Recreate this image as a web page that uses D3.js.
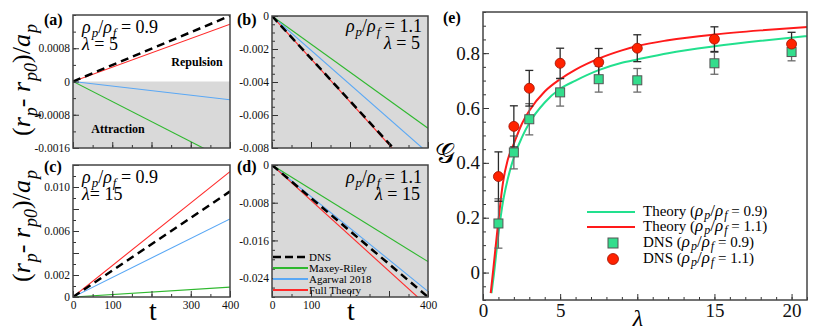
<!DOCTYPE html>
<html>
<head>
<meta charset="utf-8">
<script src="https://cdn.jsdelivr.net/npm/d3@7"></script>
<style>
  body { margin: 0; background: #fff; }
  svg text { font-family: "Liberation Serif", "Times New Roman", "DejaVu Serif", serif !important; }
</style>
</head>
<body>
<svg id="fig" width="830" height="332"></svg>
<script>
// ---------- DATA ----------
// panels (a)-(d): straight lines from t=0 to t=400, end values
const tVals = [0, 400];
const seriesNames = ["DNS", "Maxey-Riley", "Agarwal 2018", "Full Theory"];
const panelA = { dns: [0, 0.00158], mr: [0, -0.00193], ag: [0, -0.00044], full: [0, 0.00138] };
const panelB = { dns: [0, -0.0103], mr: [0, -0.0068], ag: [0, -0.0083], full: [0, -0.0104] };
const panelC = { dns: [0, 0.0096], mr: [0, 0.0009], ag: [0, 0.0071], full: [0, 0.0114] };
const panelD = { dns: [0, -0.0280], mr: [0, -0.0205], ag: [0, -0.0268], full: [0, -0.0300] };

// panel (e)
const lamTheory = [0.5, 0.7, 1, 1.3, 1.6, 2, 2.5, 3, 4, 5, 6, 7.5, 9, 10, 12, 15, 18, 21];
const theory11 = [-0.075, 0.03, 0.19, 0.33, 0.41, 0.47, 0.54, 0.59, 0.66, 0.705, 0.74, 0.78, 0.81, 0.826, 0.847, 0.868, 0.883, 0.895];
const lamTheory09 = [0.55, 0.7, 1, 1.3, 1.6, 2, 2.5, 3, 4, 5, 6, 7.5, 9, 10, 12, 15, 18, 21];
const theory09 = [-0.075, -0.01, 0.14, 0.26, 0.34, 0.42, 0.49, 0.545, 0.62, 0.67, 0.70, 0.738, 0.765, 0.777, 0.80, 0.825, 0.845, 0.862];
const lamDNS = [1, 2, 3, 5, 7.5, 10, 15, 20];
const dns11 = [0.35, 0.533, 0.672, 0.763, 0.767, 0.818, 0.851, 0.833];
const err11 = [0.09, 0.075, 0.065, 0.055, 0.05, 0.049, 0.045, 0.043];
const dns09 = [0.179, 0.438, 0.559, 0.657, 0.705, 0.701, 0.763, 0.804];
const err09 = [0.09, 0.06, 0.057, 0.05, 0.047, 0.043, 0.04, 0.032];

const colors = { dns: "#000", mr: "#2fb82f", ag: "#5aa8f5", full: "#ff2a2a" };
const gray = "#d9d9d9";

const svg = d3.select("#fig");

function frameAxes(g, x, y, opt) {
  const [x0, x1] = x.range(), [y1, y0] = y.range();
  // y axis
  g.append("g").attr("transform", `translate(${x0},0)`)
    .call(d3.axisLeft(y).tickValues(opt.yMinor).tickSize(-3).tickFormat(""));
  g.append("g").attr("transform", `translate(${x0},0)`)
    .call(d3.axisLeft(y).tickValues(opt.yMajor).tickSize(-6).tickPadding(3).tickFormat(opt.yFmt))
    .attr("font-size", opt.yFont || 11.5);
  // x axis
  g.append("g").attr("transform", `translate(0,${y1})`)
    .call(d3.axisBottom(x).tickValues(opt.xMinor).tickSize(-3).tickFormat(""));
  g.append("g").attr("transform", `translate(0,${y1})`)
    .call(d3.axisBottom(x).tickValues(opt.xMajor).tickSize(-6).tickPadding(4).tickFormat(opt.xFmt || (() => "")))
    .attr("font-size", opt.xFont || 11.5);
  g.selectAll(".domain").remove();
  g.selectAll(".tick line").attr("stroke", "#333");
  g.selectAll(".tick text").attr("fill", "#111");
  g.append("rect").attr("x", x0).attr("y", y0).attr("width", x1 - x0).attr("height", y1 - y0)
    .attr("fill", "none").attr("stroke", "#444").attr("stroke-width", 1.5);
}

function ratioLabel(g, x, y, val, anchor) {
  const t = g.append("text").attr("x", x).attr("y", y).attr("font-size", 18).attr("text-anchor", anchor);
  t.append("tspan").attr("font-style", "italic").text("ρ");
  t.append("tspan").attr("font-style", "italic").attr("font-size", 13).attr("dx", 1).attr("dy", 4).text("p");
  t.append("tspan").attr("dy", -4).text("/");
  t.append("tspan").attr("font-style", "italic").text("ρ");
  t.append("tspan").attr("font-style", "italic").attr("font-size", 13).attr("dx", 1).attr("dy", 4).text("f");
  t.append("tspan").attr("dy", -4).text(" = " + val);
}

function linePanel(id, box, yDomain, data, opt) {
  const x = d3.scaleLinear().domain([0, 400]).range([box.x0, box.x1]);
  const y = d3.scaleLinear().domain(yDomain).range([box.y1, box.y0]);
  const g = svg.append("g");
  g.append("clipPath").attr("id", "clip" + id).append("rect")
    .attr("x", box.x0).attr("y", box.y0).attr("width", box.x1 - box.x0).attr("height", box.y1 - box.y0);
  if (opt.shadeBelowZero) {
    g.append("rect").attr("x", box.x0).attr("y", y(0)).attr("width", box.x1 - box.x0)
      .attr("height", box.y1 - y(0)).attr("fill", gray);
  } else if (opt.shadeAll) {
    g.append("rect").attr("x", box.x0).attr("y", box.y0).attr("width", box.x1 - box.x0)
      .attr("height", box.y1 - box.y0).attr("fill", gray);
  }
  const line = d3.line().x((d, i) => x(tVals[i])).y(d => y(d));
  const lg = g.append("g").attr("clip-path", `url(#clip${id})`);
  ["mr", "ag", "full", "dns"].forEach(k => {
    lg.append("path").attr("d", line(data[k])).attr("fill", "none")
      .attr("stroke", colors[k]).attr("stroke-width", k === "dns" ? 2.5 : 1.1)
      .attr("stroke-dasharray", k === "dns" ? "8,5" : null);
  });
  frameAxes(g, x, y, opt);
  return { g, x, y };
}

// ---------- panel (a) ----------
const pa = linePanel("a", { x0: 73, x1: 230, y0: 15, y1: 148 }, [-0.0016, 0.0016], panelA, {
  shadeBelowZero: true,
  yMajor: [0.0008, 0, -0.0008, -0.0016], yMinor: d3.range(-0.0016, 0.0016001, 0.0004),
  yFmt: d => d === 0 ? "0" : d3.format(".4f")(d).replace("−", "-"),
  xMajor: [0, 100, 200, 300, 400], xMinor: d3.range(0, 401, 50)
});
ratioLabel(pa.g, 82, 33, "0.9", "start");
pa.g.append("text").attr("x", 82).attr("y", 50).attr("font-size", 18).html('<tspan font-style="italic">λ</tspan> = 5');
pa.g.append("text").attr("x", 197).attr("y", 66).attr("font-size", 12).attr("font-weight", "bold").attr("text-anchor", "middle").text("Repulsion");
pa.g.append("text").attr("x", 118).attr("y", 133).attr("font-size", 12).attr("font-weight", "bold").attr("text-anchor", "middle").text("Attraction");
svg.append("text").attr("x", 44).attr("y", 25).attr("font-size", 16).attr("font-weight", "bold").text("(a)");

// ---------- panel (b) ----------
const pb = linePanel("b", { x0: 272, x1: 428, y0: 16, y1: 148 }, [-0.008, 0], panelB, {
  shadeAll: true,
  yMajor: [0, -0.002, -0.004, -0.006, -0.008], yMinor: d3.range(-0.008, 0.00001, 0.0005),
  yFmt: d => d === 0 ? "0" : d3.format(".3f")(d).replace("−", "-"),
  xMajor: [0, 100, 200, 300, 400], xMinor: d3.range(0, 401, 50)
});
ratioLabel(pb.g, 422, 32, "1.1", "end");
pb.g.append("text").attr("x", 420).attr("y", 49).attr("font-size", 18).attr("text-anchor", "end").html('<tspan font-style="italic">λ</tspan> = 5');
svg.append("text").attr("x", 237).attr("y", 25).attr("font-size", 16).attr("font-weight", "bold").text("(b)");

// ---------- panel (c) ----------
const pc = linePanel("c", { x0: 73, x1: 230, y0: 165, y1: 297 }, [0, 0.012], panelC, {
  yMajor: d3.range(0, 0.0120001, 0.002), yMinor: d3.range(0, 0.0120001, 0.001),
  yFmt: d => {
    const v = Math.round(d * 1000);
    if (v === 0) return "0";
    return (v === 2 || v === 6 || v === 10) ? d3.format(".3f")(d) : "";
  },
  xMajor: [0, 100, 200, 300, 400], xMinor: d3.range(0, 401, 50),
  xFmt: d => d === 200 ? "" : d
});
ratioLabel(pc.g, 82, 183, "0.9", "start");
pc.g.append("text").attr("x", 82).attr("y", 200).attr("font-size", 18).html('<tspan font-style="italic">λ</tspan>= 15');
svg.append("text").attr("x", 153).attr("y", 320).attr("font-size", 28).attr("text-anchor", "middle").text("t");
svg.append("text").attr("x", 44).attr("y", 172).attr("font-size", 16).attr("font-weight", "bold").text("(c)");

// ---------- panel (d) ----------
const pd = linePanel("d", { x0: 272, x1: 428, y0: 165, y1: 297 }, [-0.028, 0], panelD, {
  shadeAll: true,
  yMajor: [0, -0.008, -0.016, -0.024], yMinor: d3.range(-0.028, 0.00001, 0.002),
  yFmt: d => d === 0 ? "0" : d3.format(".3f")(d).replace("−", "-"),
  xMajor: [0, 100, 200, 300, 400], xMinor: d3.range(0, 401, 50),
  xFmt: d => (d === 200 || d === 300) ? "" : d
});
ratioLabel(pd.g, 422, 183, "1.1", "end");
pd.g.append("text").attr("x", 420).attr("y", 200).attr("font-size", 18).attr("text-anchor", "end").html('<tspan font-style="italic">λ</tspan> = 15');
svg.append("text").attr("x", 351).attr("y", 320).attr("font-size", 28).attr("text-anchor", "middle").text("t");
svg.append("text").attr("x", 237).attr("y", 172).attr("font-size", 16).attr("font-weight", "bold").text("(d)");
// legend in (d)
["dns", "mr", "ag", "full"].forEach((k, i) => {
  const yy = 257 + i * 11;
  svg.append("line").attr("x1", 273).attr("x2", 308).attr("y1", yy).attr("y2", yy)
    .attr("stroke", colors[k]).attr("stroke-width", k === "dns" ? 2.5 : 2)
    .attr("stroke-dasharray", k === "dns" ? "8,4" : null);
  svg.append("text").attr("x", 309).attr("y", yy + 3.5).attr("font-size", 11).text(seriesNames[i]);
});

// y labels for (a) and (c)
function yLabel(cx, cy) {
  const t = svg.append("text").attr("transform", `translate(${cx},${cy}) rotate(-90)`)
    .attr("text-anchor", "middle").attr("font-size", 26);
  t.append("tspan").text("(");
  t.append("tspan").attr("font-style", "italic").text("r");
  t.append("tspan").attr("font-style", "italic").attr("font-size", 18).attr("dx", 1).attr("dy", 7).text("p");
  t.append("tspan").attr("dy", -7).text("- ");
  t.append("tspan").attr("font-style", "italic").text("r");
  t.append("tspan").attr("font-style", "italic").attr("font-size", 18).attr("dx", 1).attr("dy", 7).text("p0");
  t.append("tspan").attr("dy", -7).text(")/");
  t.append("tspan").attr("font-style", "italic").text("a");
  t.append("tspan").attr("font-style", "italic").attr("font-size", 18).attr("dx", 1).attr("dy", 7).text("p");
}
yLabel(30, 80);
yLabel(30, 226);

// ---------- panel (e) ----------
const ex = d3.scaleLinear().domain([0, 21]).range([483, 807]);
const ey = d3.scaleLinear().domain([-0.1, 0.95]).range([300, 12]);
const ge = svg.append("g");
ge.append("clipPath").attr("id", "clipE").append("rect").attr("x", 483).attr("y", 12).attr("width", 324).attr("height", 288);
const curve = d3.line().curve(d3.curveMonotoneX);
const cg = ge.append("g").attr("clip-path", "url(#clipE)");
cg.append("path").attr("d", curve(lamTheory09.map((l, i) => [ex(l), ey(theory09[i])])))
  .attr("fill", "none").attr("stroke", "#22e08e").attr("stroke-width", 2);
cg.append("path").attr("d", curve(lamTheory.map((l, i) => [ex(l), ey(theory11[i])])))
  .attr("fill", "none").attr("stroke", "#ff1a1a").attr("stroke-width", 2);

function errBars(vals, errs, color) {
  lamDNS.forEach((l, i) => {
    const xx = ex(l), top = ey(vals[i] + errs[i]), bot = ey(vals[i] - errs[i]);
    ge.append("line").attr("x1", xx).attr("x2", xx).attr("y1", top).attr("y2", bot).attr("stroke", color).attr("stroke-width", 1.3);
    [top, bot].forEach(yy => ge.append("line").attr("x1", xx - 4).attr("x2", xx + 4).attr("y1", yy).attr("y2", yy).attr("stroke", color).attr("stroke-width", 1.3));
  });
}
errBars(dns09, err09, "#6a6a6a");
errBars(dns11, err11, "#2a2a2a");
lamDNS.forEach((l, i) => {
  ge.append("rect").attr("x", ex(l) - 4.5).attr("y", ey(dns09[i]) - 4.5).attr("width", 9).attr("height", 9)
    .attr("fill", "#33dd8c").attr("stroke", "#555").attr("stroke-width", 1);
});
lamDNS.forEach((l, i) => {
  ge.append("circle").attr("cx", ex(l)).attr("cy", ey(dns11[i])).attr("r", 5)
    .attr("fill", "#ff2200").attr("stroke", "#a01000").attr("stroke-width", 0.8);
});

frameAxes(ge, ex, ey, {
  yMajor: [0, 0.2, 0.4, 0.6, 0.8], yMinor: d3.range(-0.1, 0.951, 0.05),
  yFmt: d => d === 0 ? "0" : d3.format(".1f")(d), yFont: 19,
  xMajor: [0, 5, 10, 15, 20], xMinor: d3.range(0, 21.01, 1),
  xFmt: d => d === 10 ? "" : d, xFont: 19
});
svg.append("text").attr("x", 638).attr("y", 326).attr("font-size", 24).attr("font-style", "italic").attr("text-anchor", "middle").text("λ");
svg.append("text").attr("x", 445).attr("y", 163).attr("font-size", 28).attr("text-anchor", "middle").text("𝒢");
svg.append("text").attr("x", 443).attr("y", 23).attr("font-size", 16).attr("font-weight", "bold").text("(e)");

// legend in (e)
const leg = [
  { type: "line", color: "#22e08e", label: "Theory (", val: "0.9" },
  { type: "line", color: "#ff1a1a", label: "Theory (", val: "1.1" },
  { type: "sq", label: "DNS (", val: "0.9" },
  { type: "ci", label: "DNS (", val: "1.1" }
];
leg.forEach((d, i) => {
  const yy = [212, 227, 243, 259][i];
  if (d.type === "line") {
    svg.append("line").attr("x1", 587).attr("x2", 635).attr("y1", yy).attr("y2", yy).attr("stroke", d.color).attr("stroke-width", 2);
  } else if (d.type === "sq") {
    svg.append("rect").attr("x", 613 - 5).attr("y", yy - 5).attr("width", 10).attr("height", 10).attr("fill", "#33dd8c").attr("stroke", "#555");
  } else {
    svg.append("circle").attr("cx", 613).attr("cy", yy).attr("r", 5.5).attr("fill", "#ff2200").attr("stroke", "#a01000").attr("stroke-width", 0.8);
  }
  const t = svg.append("text").attr("x", 643).attr("y", yy + 4).attr("font-size", 15);
  t.append("tspan").text(d.label);
  t.append("tspan").attr("font-style", "italic").attr("font-size", 17).text("ρ");
  t.append("tspan").attr("font-style", "italic").attr("font-size", 12).attr("dx", 1).attr("dy", 3).text("p");
  t.append("tspan").attr("dy", -3).attr("font-size", 17).text("/");
  t.append("tspan").attr("font-style", "italic").attr("font-size", 17).text("ρ");
  t.append("tspan").attr("font-style", "italic").attr("font-size", 12).attr("dx", 1).attr("dy", 3).text("f");
  t.append("tspan").attr("dy", -3).text(" = " + d.val + ")");
});
</script>
</body>
</html>
